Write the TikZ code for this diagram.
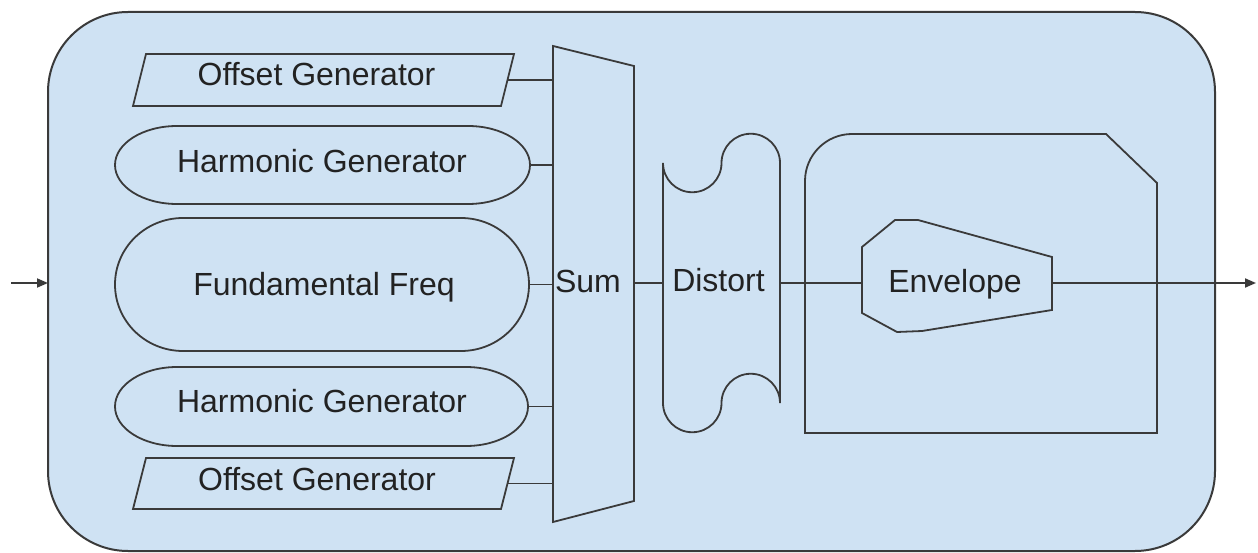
\documentclass[tikz,border=0pt]{standalone}
\usepackage{fontspec}
\setmainfont{Liberation Sans}
\usetikzlibrary{arrows.meta,calc}
\definecolor{panel}{HTML}{CFE2F3}
\definecolor{ink}{HTML}{3A3A3A}
\definecolor{type}{HTML}{222222}

\begin{document}
\begin{tikzpicture}[x=1pt,y=-1pt,
  outline/.style={draw=ink,line width=1.8pt,line join=miter,fill=panel},
  area/.style 2 args={inner sep=0pt,outer sep=0pt,minimum width=#1,minimum height=#2},
  caption/.style={anchor=base,inner sep=0pt,text=type,font=\fontsize{32}{38}\selectfont},
  wire/.style={draw=ink,line width=1.8pt},
  tip/.style={-{Triangle[length=11pt,width=9pt]}}
]
\useasboundingbox (0,0) rectangle (1258,553);

% enclosing panel
\node[area={1167pt}{539pt},draw=ink,fill=panel,line width=2pt,rounded corners=80pt] (frame) at (631.5,281.5) {};

% generator blocks (bounding areas)
\node[area={381pt}{52pt}]  (o1)  at (323.5,80) {};
\node[area={415pt}{78pt}]  (h1)  at (322.5,165) {};
\node[area={414pt}{133pt}] (f)   at (322,284.5) {};
\node[area={413pt}{79pt}]  (h2)  at (321.5,406.5) {};
\node[area={381pt}{51pt}]  (o2)  at (323.5,483.5) {};
\node[area={81pt}{476pt}]  (sum) at (593.5,284) {};
\node[area={117pt}{240pt}] (dist) at (721.5,283) {};
\node[area={352pt}{299pt}] (envbox) at (981,283.5) {};
\node[area={190pt}{112pt}] (env) at (957,276) {};

% offset generators: parallelograms
\draw[outline] ([xshift=13pt]o1.north west) -- (o1.north east) -- ([xshift=-13pt]o1.south east) -- (o1.south west) -- cycle;
\draw[outline] ([xshift=13pt]o2.north west) -- (o2.north east) -- ([xshift=-13pt]o2.south east) -- (o2.south west) -- cycle;

% harmonic generators and fundamental: elliptic-ended bars
\draw[outline] ([xshift=62pt]h1.north west) -- ([xshift=-62pt]h1.north east)
  arc[start angle=90,end angle=-90,x radius=62pt,y radius=39pt]
  -- ([xshift=62pt]h1.south west)
  arc[start angle=270,end angle=90,x radius=62pt,y radius=39pt] -- cycle;
\draw[outline] ([xshift=68pt]f.north west) -- ([xshift=-68pt]f.north east)
  arc[start angle=90,end angle=-90,x radius=68pt,y radius=66.5pt]
  -- ([xshift=68pt]f.south west)
  arc[start angle=270,end angle=90,x radius=68pt,y radius=66.5pt] -- cycle;
\draw[outline] ([xshift=62pt]h2.north west) -- ([xshift=-62pt]h2.north east)
  arc[start angle=90,end angle=-90,x radius=62pt,y radius=39.5pt]
  -- ([xshift=62pt]h2.south west)
  arc[start angle=270,end angle=90,x radius=62pt,y radius=39.5pt] -- cycle;

% summing block
\draw[outline] (sum.north west) -- ([yshift=-20pt]sum.north east) -- ([yshift=21pt]sum.south east) -- (sum.south west) -- cycle;

% distortion stage: tape
\draw[outline] (dist.north west)
  arc[start angle=180,end angle=360,radius=29.25pt]
  arc[start angle=180,end angle=0,radius=29.25pt]
  -- (dist.south east)
  arc[start angle=0,end angle=180,radius=29.25pt]
  arc[start angle=0,end angle=-180,radius=29.25pt] -- cycle;

% envelope housing with one rounded and one clipped corner
\draw[outline] ([yshift=-47pt]envbox.north west)
  arc[start angle=180,end angle=90,radius=47pt]
  -- ([xshift=-51pt]envbox.north east) -- ([yshift=-49pt]envbox.north east)
  -- (envbox.south east) -- (envbox.south west) -- cycle;

% envelope block
\draw[outline] (862,247) -- (895,220) -- (918,220) -- (1052,257) -- (1052,310)
  -- (922,331) -- (897,332) -- (862,313) -- cycle;

% signal wiring
\coordinate (in) at (11,283);
\coordinate (out) at (1256,283);
\draw[wire,tip] (in) -- (in -| frame.west);
\draw[wire] ([xshift=-6.5pt]o1.east) -- (o1.east -| sum.west);
\draw[wire] (h1.east) -- (h1.east -| sum.west);
\draw[wire] (f.east) -- (f.east -| sum.west);
\draw[wire] (h2.east) -- (h2.east -| sum.west);
\draw[wire] ([xshift=-6.5pt]o2.east) -- (o2.east -| sum.west);
\draw[wire] (sum.east |- dist.west) -- (dist.west);
\draw[wire] (dist.east) -- (dist.east -| env.west);
\draw[wire,tip] (out -| env.east) -- (out);

% block captions
\node[caption] (o1t)  at (316.5,86) {Offset Generator};
\node[caption] (h1t)  at (322,173) {Harmonic Generator};
\node[caption] (ft)   at (324,296) {Fundamental Freq};
\node[caption] (h2t)  at (322,412) {Harmonic Generator};
\node[caption] (o2t)  at (317,490) {Offset Generator};
\node[caption] (sumt) at (588,293) {Sum};
\node[caption] (distt) at (718.5,292) {Distort};
\node[caption] (envt) at (955,293) {Envelope};
\end{tikzpicture}
\end{document}
